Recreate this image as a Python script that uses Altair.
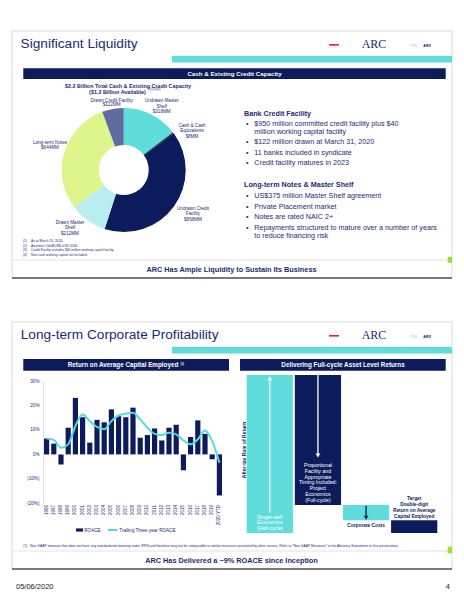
import altair as alt
import pandas as pd

# ---------------- data ----------------
donut_labels = ["Undrawn Master Shelf", "Cash & Cash Equivalents", "Undrawn Credit Facility",
                "Drawn Master Shelf", "Long-term Notes", "Drawn Credit Facility"]
donut_values = [318, 8, 868, 212, 644, 122]
donut_colors = ["#5fdcdc", "#111111", "#0c1b5c", "#b8eef0", "#def58c", "#5e6d9e"]

years = ["1996", "1997", "1998", "1999", "2000", "2001", "2002", "2003", "2004", "2005",
         "2006", "2007", "2008", "2009", "2010", "2011", "2012", "2013", "2014", "2015",
         "2016", "2017", "2018", "2019", "2020 YTD"]
roace = [6.5, 4.4, -4.1, 10.9, 23.1, 15.2, 4.8, 14.1, 13.1, 18.4, 15.6, 15.2, 19.1,
         6.8, 7.9, 10.6, 5.7, 10.9, 12.1, -6.5, 7.1, 13.9, 8.4, -2.0, -16.8]
trailing = [6.5, 5.9, 2.7, 4.1, 11.6, 16.3, 13.6, 11.2, 10.3, 13.6, 15.9, 16.6, 17.0,
            14.3, 10.9, 8.4, 7.9, 8.8, 8.2, 5.7, 4.1, 6.1, 9.8, 5.4, -3.4]
y_ticks = [-20, -10, 0, 10, 20, 30]

steps = ["Single-well", "Full-cycle", "Corporate Costs", "Target"]
step_lo = [0, 17.7, 8.0, 0]
step_hi = [100, 100, 17.7, 8.0]
arrow_from = [13, 100, 17.2]
arrow_to = [98, 49, 9.6]

# ---------------- style ----------------
NAVY = "#0c1b5c"
TXT = "#1a2b78"
CYAN = "#5fdcdc"
FONT = "Liberation Sans"


def P(v):
    return v - 8


one = pd.DataFrame({"k": [0]})
base = alt.Chart(one)
layers = []


def rule(x1, y1, x2, y2, color, w=1.0):
    layers.append(base.mark_rule(color=color, strokeWidth=w).encode(
        x=alt.value(P(x1)), x2=alt.value(P(x2)), y=alt.value(P(y1)), y2=alt.value(P(y2))))


def rect(x1, y1, x2, y2, color):
    layers.append(base.mark_rect(color=color).encode(
        x=alt.value(P(x1)), x2=alt.value(P(x2)), y=alt.value(P(y1)), y2=alt.value(P(y2))))


def txt(lines, x, y, size, color=TXT, bold=False, align="left", lh=None, font=FONT, angle=0):
    kw = dict(text=lines if len(lines) > 1 else lines[0], fontSize=size, font=font,
              color=color, fontWeight="bold" if bold else "normal", align=align,
              baseline="alphabetic")
    if lh:
        kw["lineHeight"] = lh
    if angle:
        kw["angle"] = angle
    layers.append(base.mark_text(**kw).encode(x=alt.value(P(x)), y=alt.value(P(y))))


# ---------------- bar + line chart (ROACE) ----------------
roace_df = pd.DataFrame({"year": years, "roace": roace, "trailing": trailing})
xenc = alt.X("year:N", sort=years,
             scale=alt.Scale(range=[P(43), P(223)], paddingInner=0.28, paddingOuter=0.14),
             axis=alt.Axis(title=None, labelAngle=270, labelFontSize=4.5, labelColor=TXT,
                           labelFont=FONT, ticks=False, domain=False, labelPadding=1.5,
                           offset=P(503) - 584))
yscale = alt.Scale(domain=[-20, 30], range=[P(503.3), P(381)])
yaxis = alt.Axis(title=None, values=y_ticks, grid=False, ticks=False, domain=True,
                 domainColor="#e4e4e4", labelFontSize=4.6, labelColor=TXT, labelFont=FONT,
                 labelPadding=4,
                 labelExpr="datum.value < 0 ? '(' + (-datum.value) + '%)' : datum.value + '%'",
                 offset=-P(43))
rbase = alt.Chart(roace_df).encode(x=xenc)
bars = rbase.mark_bar(color=NAVY).encode(y=alt.Y("roace:Q", scale=yscale, axis=yaxis))
line = rbase.mark_line(color="#4fdcdc", strokeWidth=2, interpolate="monotone").encode(
    y=alt.Y("trailing:Q", scale=yscale, axis=yaxis))
roace_chart = alt.layer(bars, line)

# ---------------- donut ----------------
donut_df = pd.DataFrame({"label": donut_labels, "value": donut_values,
                         "order": list(range(len(donut_labels)))})
donut = alt.Chart(donut_df).mark_arc(innerRadius=25, outerRadius=62).encode(
    theta=alt.Theta("value:Q", stack=True),
    order=alt.Order("order:Q"),
    color=alt.Color("label:N", scale=alt.Scale(domain=donut_labels, range=donut_colors),
                    legend=None),
    x=alt.value(P(123.7)), y=alt.value(P(170)))

# ---------------- full-cycle schematic ----------------
steps_df = pd.DataFrame({"step": steps, "lo": step_lo, "hi": step_hi})
arrows_df = pd.DataFrame({"step": steps[:3], "a0": arrow_from, "a1": arrow_to,
                          "ac": ["white", "white", NAVY],
                          "sh": ["triangle-up", "triangle-down", "triangle-down"]})
sx = alt.X("step:N", sort=steps,
           scale=alt.Scale(domain=steps, range=[P(246.7), P(437.3)], paddingInner=0.04,
                           paddingOuter=0), axis=None)
sy = alt.Scale(domain=[0, 100], range=[P(533), P(375)])
sbars = alt.Chart(steps_df).mark_bar().encode(
    x=sx, y=alt.Y("lo:Q", scale=sy, axis=None), y2="hi:Q",
    color=alt.Color("step:N", scale=alt.Scale(domain=steps, range=[CYAN, NAVY, CYAN, NAVY]),
                    legend=None))
arules = alt.Chart(arrows_df).mark_rule(strokeWidth=1.3).encode(
    x=sx, y=alt.Y("a0:Q", scale=sy, axis=None), y2="a1:Q",
    color=alt.Color("ac:N", scale=None))
aheads = alt.Chart(arrows_df).mark_point(filled=True, size=22, opacity=1).encode(
    x=sx, y=alt.Y("a1:Q", scale=sy, axis=None),
    color=alt.Color("ac:N", scale=None), shape=alt.Shape("sh:N", scale=None))


def stext(step, lines, y, size, color, bold, lh):
    d = pd.DataFrame({"step": [step]})
    kw = dict(text=lines if len(lines) > 1 else lines[0], fontSize=size, font=FONT,
              color=color, fontWeight="bold" if bold else "normal", align="center",
              baseline="alphabetic", lineHeight=lh)
    return alt.Chart(d).mark_text(**kw).encode(x=sx, y=alt.value(P(y)))


schematic = alt.layer(
    sbars, arules, aheads,
    stext("Single-well", ["Single-well", "Economics", "(Half-cycle)"], 518.8, 5.2, "white", False, 5.6),
    stext("Full-cycle", ["Proportional", "Facility and", "Appropriate", "Timing Included:",
                         "Project", "Economics", "(Full-cycle)"], 466.8, 5.2, "white", False, 5.9),
    stext("Corporate Costs", ["Corporate Costs"], 526.8, 4.8, NAVY, True, 5.6),
    stext("Target", ["Target", "Double-digit", "Return on Average", "Capital Employed"],
          499.8, 4.8, NAVY, True, 6.0),
)

# ---------------- slide 1 decoration & text ----------------
for (top, bot) in [(31, 278), (322, 569)]:
    rule(12, top, 452, top, "#d2d2d2", 0.8)
    rule(12, top, 12, bot, "#d2d2d2", 0.8)
    rule(452, top, 452, bot, "#d2d2d2", 0.8)
    rule(12, bot, 452, bot, "#4d4d4d", 1.5)
    rect(172, top + 25, 452, top + 31.5, CYAN)
    rect(329, top + 13, 339, top + 14.6, "#e3262b")
    txt(["ARC"], 374, top + 16.5, 12, TXT, False, "center", font="Liberation Serif")
    txt(["TSX"], 410, top + 15.7, 3.6, CYAN)
    txt(["ARX"], 423.3, top + 15.7, 3.6, NAVY, True)

txt(["Significant Liquidity"], 20.5, 48.3, 13.7, TXT)
rect(23.3, 68.3, 445.7, 79, NAVY)
txt(["Cash & Existing Credit Capacity"], 234.5, 76, 6.2, "white", True, "center")

txt(["$2.2 Billion Total Cash & Existing Credit Capacity"], 128, 87.5, 5.4, TXT, True, "center")
txt(["($1.2 Billion Available)"], 117.5, 93.5, 5.4, TXT, True, "center")
txt(["(1)(2)(3)(4)"], 148, 90.5, 2.6, TXT)

txt(["Drawn Credit Facility", "$122MM"], 111.7, 101.6, 4.6, TXT, False, "center", 4.9)
txt(["Undrawn Master", "Shelf", "$318MM"], 161.7, 102.3, 4.6, TXT, False, "center", 5.6)
txt(["Cash & Cash", "Equivalents", "$8MM"], 192, 126.6, 4.6, TXT, False, "center", 5.5)
txt(["Long-term Notes", "$644MM"], 50, 143.6, 4.6, TXT, False, "center", 5.7)
txt(["Drawn Master", "Shelf", "$212MM"], 70, 223.6, 4.6, TXT, False, "center", 5.5)
txt(["Undrawn Credit", "Facility", "$868MM"], 193, 209.6, 4.6, TXT, False, "center", 5.5)

notes1 = ["As at March 31, 2020.", "Assumes Cdn$/US$ of $1.4130.",
          "Credit Facility includes $40 million working capital facility.",
          "Non-cash working capital not included."]
for i, n in enumerate(notes1):
    txt(["(%d)" % (i + 1)], 23, 242.3 + i * 4.4, 3.3, TXT)
    txt([n], 31, 242.3 + i * 4.4, 3.3, TXT)

txt(["Bank Credit Facility"], 244, 116, 7.2, TXT, True)
bl1 = [(126.2, "$950 million committed credit facility plus $40"),
       (144.2, "$122 million drawn at March 31, 2020"),
       (154.5, "11 banks included in syndicate"),
       (164.8, "Credit facility matures in 2023")]
for y, s in bl1:
    txt(["\u2022"], 246, y, 7.2, TXT)
    txt([s], 254.3, y, 7.2, TXT)
txt(["million working capital facility"], 254.3, 134, 7.2, TXT)
txt(["Long-term Notes & Master Shelf"], 244, 186.8, 7.2, TXT, True)
bl2 = [(197.8, "US$375 million Master Shelf agreement"),
       (208.8, "Private Placement market"),
       (218.8, "Notes are rated NAIC 2+"),
       (229.5, "Repayments structured to mature over a number of years")]
for y, s in bl2:
    txt(["\u2022"], 246, y, 7.2, TXT)
    txt([s], 254.3, y, 7.2, TXT)
txt(["to reduce financing risk"], 254.3, 237.8, 7.2, TXT)

rule(12, 260, 452, 260, "#dcdcdc", 0.8)
rect(447.7, 256.7, 452, 262.7, "#9be22d")
txt(["ARC Has Ample Liquidity to Sustain Its Business"], 231.5, 271.7, 7.3, TXT, True, "center")

# ---------------- slide 2 decoration & text ----------------
txt(["Long-term Corporate Profitability"], 20.7, 339, 13.7, TXT)
rect(23.3, 359, 229, 370.7, NAVY)
txt(["Return on Average Capital Employed"], 123, 367.2, 6.3, "white", True, "center")
txt(["(1)"], 180.5, 364.5, 2.8, "white", True)
rect(240, 359, 445.7, 370.7, NAVY)
txt(["Delivering Full-cycle Asset Level Returns"], 343, 367.2, 6.3, "white", True, "center")

# legend
rect(76, 528.4, 83, 531.6, NAVY)
txt(["ROACE"], 84.3, 531.8, 4.6, TXT)
rule(108, 530, 117.5, 530, "#4fdcdc", 2)
txt(["Trailing Three-year ROACE"], 119.3, 531.8, 4.6, TXT)

txt(["After-tax Rate of Return"], 245.5, 450, 5.0, NAVY, True, "center", angle=270)

txt(["(1)"], 23.3, 547, 3.4, TXT)
txt(["Non-GAAP measure that does not have any standardized meaning under IFRS and therefore "
     "may not be comparable to similar measures presented by other issuers. Refer to "
     "\u201cNon-GAAP Measures\u201d in the Advisory Statements to this presentation."],
    30, 547, 3.4, TXT)
rule(12, 551, 452, 551, "#dcdcdc", 0.8)
rect(447.7, 546.7, 452, 553.3, "#9be22d")
txt(["ARC Has Delivered a ~9% ROACE since Inception"], 231.5, 562.7, 7.3, TXT, True, "center")

txt(["05/06/2020"], 16, 588.5, 7.5, "#222222")
txt(["4"], 450, 588.5, 7.5, "#222222", False, "right")

chart = alt.layer(roace_chart, donut, schematic, *layers).resolve_scale(
    x="independent", y="independent", color="independent", theta="independent"
).properties(
    width=448, height=584, autosize=alt.AutoSizeParams(type="none"), padding=0,
    background="white"
).configure_view(stroke=None)

chart.save("out.html", embed_options={"renderer": "svg", "actions": False})
